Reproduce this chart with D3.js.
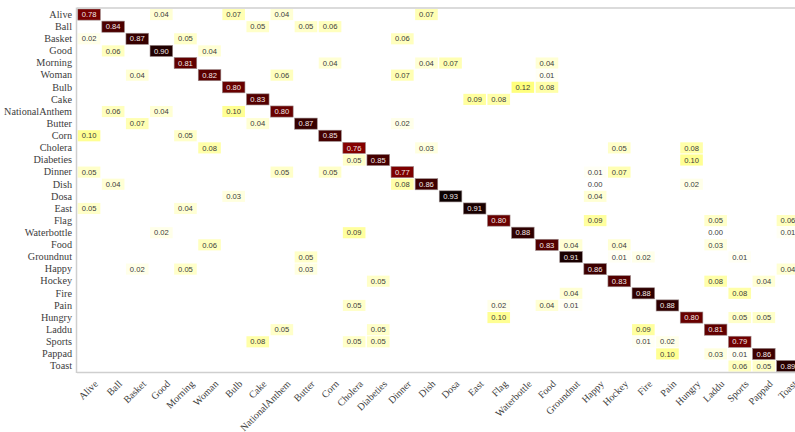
<!DOCTYPE html>
<html>
<head>
<meta charset="utf-8">
<script src="https://cdn.jsdelivr.net/npm/d3@7"></script>
<style>
  html, body { margin: 0; padding: 0; background: #ffffff; overflow: hidden; }
  svg { display: block; }
</style>
</head>
<body>
<svg id="chart" width="795" height="432"></svg>
<script>
// Class names (rows = true class, columns = predicted class)
const classes = ["Alive", "Ball", "Basket", "Good", "Morning", "Woman", "Bulb", "Cake",
  "NationalAnthem", "Butter", "Corn", "Cholera", "Diabeties", "Dinner", "Dish", "Dosa",
  "East", "Flag", "Waterbottle", "Food", "Groundnut", "Happy", "Hockey", "Fire", "Pain",
  "Hungry", "Laddu", "Sports", "Pappad", "Toast"];

// Per-class accuracy (diagonal of the normalised confusion matrix)
const diagonal = [0.78, 0.84, 0.87, 0.90, 0.81, 0.82, 0.80, 0.83, 0.80, 0.87, 0.85, 0.76,
  0.85, 0.77, 0.86, 0.93, 0.91, 0.80, 0.88, 0.83, 0.91, 0.86, 0.83, 0.88, 0.88, 0.80,
  0.81, 0.79, 0.86, 0.89];

// Misclassifications: [true class, predicted class, rate]
const confusions = [
  ["Alive", "Good", 0.04], ["Alive", "Bulb", 0.07], ["Alive", "NationalAnthem", 0.04], ["Alive", "Dish", 0.07],
  ["Ball", "Cake", 0.05], ["Ball", "Butter", 0.05], ["Ball", "Corn", 0.06],
  ["Basket", "Alive", 0.02], ["Basket", "Morning", 0.05], ["Basket", "Dinner", 0.06],
  ["Good", "Ball", 0.06], ["Good", "Woman", 0.04],
  ["Morning", "Corn", 0.04], ["Morning", "Dish", 0.04], ["Morning", "Dosa", 0.07], ["Morning", "Food", 0.04],
  ["Woman", "Basket", 0.04], ["Woman", "NationalAnthem", 0.06], ["Woman", "Dinner", 0.07], ["Woman", "Food", 0.01],
  ["Bulb", "Waterbottle", 0.12], ["Bulb", "Food", 0.08],
  ["Cake", "East", 0.09], ["Cake", "Flag", 0.08],
  ["NationalAnthem", "Ball", 0.06], ["NationalAnthem", "Good", 0.04], ["NationalAnthem", "Bulb", 0.10],
  ["Butter", "Basket", 0.07], ["Butter", "Cake", 0.04], ["Butter", "Dinner", 0.02],
  ["Corn", "Alive", 0.10], ["Corn", "Morning", 0.05],
  ["Cholera", "Woman", 0.08], ["Cholera", "Dish", 0.03], ["Cholera", "Hockey", 0.05], ["Cholera", "Hungry", 0.08],
  ["Diabeties", "Cholera", 0.05], ["Diabeties", "Hungry", 0.10],
  ["Dinner", "Alive", 0.05], ["Dinner", "NationalAnthem", 0.05], ["Dinner", "Corn", 0.05], ["Dinner", "Happy", 0.01], ["Dinner", "Hockey", 0.07],
  ["Dish", "Ball", 0.04], ["Dish", "Dinner", 0.08], ["Dish", "Happy", 0.00], ["Dish", "Hungry", 0.02],
  ["Dosa", "Bulb", 0.03], ["Dosa", "Happy", 0.04],
  ["East", "Alive", 0.05], ["East", "Morning", 0.04],
  ["Flag", "Happy", 0.09], ["Flag", "Laddu", 0.05], ["Flag", "Toast", 0.06],
  ["Waterbottle", "Good", 0.02], ["Waterbottle", "Cholera", 0.09], ["Waterbottle", "Laddu", 0.00], ["Waterbottle", "Toast", 0.01],
  ["Food", "Woman", 0.06], ["Food", "Groundnut", 0.04], ["Food", "Hockey", 0.04], ["Food", "Laddu", 0.03],
  ["Groundnut", "Butter", 0.05], ["Groundnut", "Hockey", 0.01], ["Groundnut", "Fire", 0.02], ["Groundnut", "Sports", 0.01],
  ["Happy", "Basket", 0.02], ["Happy", "Morning", 0.05], ["Happy", "Butter", 0.03], ["Happy", "Toast", 0.04],
  ["Hockey", "Diabeties", 0.05], ["Hockey", "Laddu", 0.08], ["Hockey", "Pappad", 0.04],
  ["Fire", "Groundnut", 0.04], ["Fire", "Sports", 0.08],
  ["Pain", "Cholera", 0.05], ["Pain", "Flag", 0.02], ["Pain", "Food", 0.04], ["Pain", "Groundnut", 0.01],
  ["Hungry", "Flag", 0.10], ["Hungry", "Sports", 0.05], ["Hungry", "Pappad", 0.05],
  ["Laddu", "NationalAnthem", 0.05], ["Laddu", "Diabeties", 0.05], ["Laddu", "Fire", 0.09],
  ["Sports", "Cake", 0.08], ["Sports", "Cholera", 0.05], ["Sports", "Diabeties", 0.05], ["Sports", "Fire", 0.01], ["Sports", "Pain", 0.02],
  ["Pappad", "Pain", 0.10], ["Pappad", "Laddu", 0.03], ["Pappad", "Sports", 0.01],
  ["Toast", "Sports", 0.06], ["Toast", "Pappad", 0.05]
];

const cells = classes.map((c, i) => ({ row: c, col: c, value: diagonal[i] }))
  .concat(confusions.map(([row, col, value]) => ({ row, col, value })));

const svg = d3.select("#chart");
const margin = { left: 77, top: 8.5 };
const cellW = 24.1, cellH = 12.12;

const x = d3.scaleBand().domain(classes)
  .range([margin.left, margin.left + cellW * classes.length]).padding(0);
const y = d3.scaleBand().domain(classes)
  .range([margin.top, margin.top + cellH * classes.length]).padding(0);

// "hot" colormap, reversed: white -> yellow -> red -> black
const vmax = d3.max(cells, d => d.value);
const hot = d3.scaleLinear()
  .domain([0, 0.254, 0.635, 1])
  .range(["#ffffff", "#ffff00", "#ff0000", "#0b0000"])
  .clamp(true);
const color = v => hot(v / vmax);

const plotBottom = y.range()[1];

// cells
svg.append("g").selectAll("rect")
  .data(cells)
  .join("rect")
  .attr("x", d => x(d.col) + 0.75)
  .attr("y", d => y(d.row) + 0.5)
  .attr("width", x.bandwidth() - 1.5)
  .attr("height", y.bandwidth() - 1)
  .attr("fill", d => color(d.value))
  .attr("stroke", d => d.value > 0.5 ? "#9a8a8a" : "none")
  .attr("stroke-width", 0.6);

// value labels
svg.append("g").selectAll("text")
  .data(cells)
  .join("text")
  .attr("x", d => x(d.col) + x.bandwidth() / 2)
  .attr("y", d => y(d.row) + y.bandwidth() / 2)
  .attr("dy", "0.35em")
  .attr("text-anchor", "middle")
  .attr("font-family", "'Liberation Sans', Arial, sans-serif")
  .attr("font-size", 7.6)
  .attr("fill", d => d.value > 0.5 ? "#f2e8e8" : "#3a3a3a")
  .text(d => d3.format(".2f")(d.value));

// frame
const frame = svg.append("g").attr("stroke", "#cfcfcf").attr("stroke-width", 1.5).attr("fill", "none");
frame.append("line").attr("x1", margin.left).attr("x2", 795).attr("y1", margin.top - 0.5).attr("y2", margin.top - 0.5);
frame.append("line").attr("x1", margin.left).attr("x2", 795).attr("y1", plotBottom + 0.5).attr("y2", plotBottom + 0.5);
frame.append("line").attr("x1", margin.left - 0.5).attr("x2", margin.left - 0.5).attr("y1", margin.top - 1).attr("y2", plotBottom + 1);

// y axis labels
const yAxis = d3.axisLeft(y).tickSize(0).tickPadding(5);
const gy = svg.append("g").attr("transform", `translate(${margin.left},0)`).call(yAxis);
gy.select(".domain").remove();
gy.selectAll("text")
  .attr("font-family", "'Liberation Serif', 'Times New Roman', serif")
  .attr("font-size", 10.2)
  .attr("fill", "#3c3c3c");

// x axis labels, rotated
const xAxis = d3.axisBottom(x).tickSize(0).tickPadding(0);
const gx = svg.append("g").attr("transform", `translate(0,${plotBottom})`).call(xAxis);
gx.select(".domain").remove();
gx.selectAll("text")
  .attr("font-family", "'Liberation Serif', 'Times New Roman', serif")
  .attr("font-size", 10)
  .attr("fill", "#3c3c3c")
  .attr("text-anchor", "end")
  .attr("dy", "0.35em")
  .attr("transform", "translate(7,10) rotate(-45)");
</script>
</body>
</html>
